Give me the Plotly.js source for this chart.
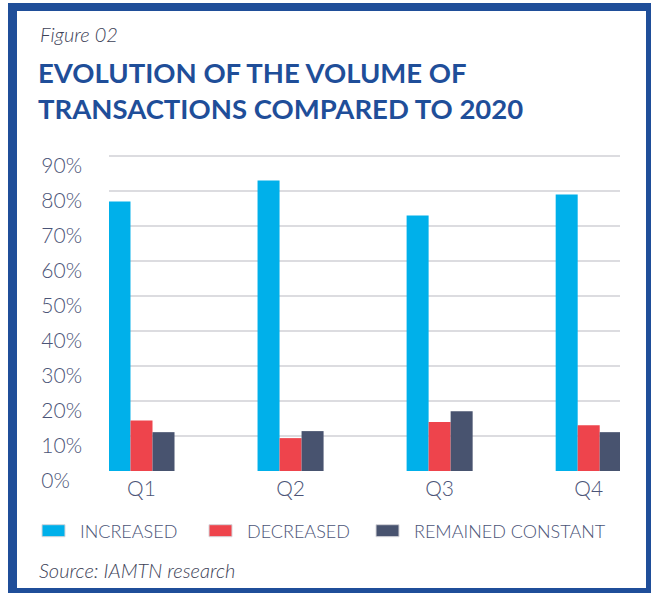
<!DOCTYPE html>
<html>
<head>
<meta charset="utf-8">
<script src="https://cdn.plot.ly/plotly-3.0.1.min.js"></script>
<style>
    html, body { margin: 0; padding: 0; background: #fff; }
    #wrap { position: relative; width: 651px; height: 593px; overflow: hidden; }
    #chart { position: absolute; left: 0; top: 0; width: 651px; height: 593px; }
    #frame {
        position: absolute; left: 8px; top: 3px; width: 643px; height: 590px;
        box-sizing: border-box; pointer-events: none;
        border-style: solid; border-color: #1f4e99;
        border-width: 8px 5px 5px 9px;
    }
</style>
</head>
<body>
<div id="wrap">
    <div id="chart"></div>
    <div id="frame"></div>
</div>
<script>
// Figure 02 - share of respondents per quarter (%)
const quarters = ['Q1', 'Q2', 'Q3', 'Q4'];
const increased = [77, 83, 73, 79];
const decreased = [14.4, 9.4, 14, 13.1];
const remainedConstant = [11.1, 11.4, 17.1, 11.1];

const tickVals = [0, 10, 20, 30, 40, 50, 60, 70, 80, 90];
const tickLabels = ['0%\u2007', '10%', '20%', '30%', '40%', '50%', '60%', '70%', '80%', '90%'];

const textColor = '#4b5477';
const titleBlue = '#1f4e99';

function bar(name, y, color) {
    return {
        x: quarters,
        y: y,
        name: name,
        type: 'bar',
        marker: { color: color },
        hoverinfo: 'skip'
    };
}

const traces = [
    bar('INCREASED', increased, '#00b0ea'),
    bar('DECREASED', decreased, '#ee444c'),
    bar('REMAINED CONSTANT', remainedConstant, '#48536f')
];

const layout = {
    width: 651,
    height: 593,
    margin: { l: 109, r: 31, t: 155, b: 122 },
    paper_bgcolor: '#fff',
    plot_bgcolor: '#fff',
    font: { family: 'Lato, "Open Sans", sans-serif', color: textColor },
    barmode: 'group',
    bargap: 0.557,
    bargroupgap: 0,
    title: {
        text: 'EVOLUTION OF THE VOLUME OF<br>TRANSACTIONS COMPARED TO 2020',
        font: { family: 'Lato, sans-serif', size: 27.5, weight: 700, color: titleBlue },
        xref: 'container', yref: 'container',
        x: 38 / 651, xanchor: 'left',
        y: 1 - 83 / 593, yanchor: 'top'
    },
    xaxis: {
        range: [-0.218, 3.21],
        showgrid: false,
        zeroline: false,
        showline: false,
        ticks: '',
        tickfont: { size: 21, weight: 300, color: textColor },
        ticklabelstandoff: 3,
        fixedrange: true
    },
    yaxis: {
        range: [0, 90.3],
        tickvals: tickVals,
        ticktext: tickLabels,
        tickfont: { size: 21, weight: 300, color: textColor },
        ticks: '',
        ticklabelstandoff: 26,
        ticklabelshift: 10,
        showline: false,
        zeroline: false,
        gridcolor: '#dcdce0',
        gridwidth: 1.5,
        fixedrange: true
    },
    showlegend: true,
    legend: {
        orientation: 'h',
        x: (40 - 109) / 511, xanchor: 'left',
        y: (471 - 531) / 316, yanchor: 'middle',
        font: { size: 18, weight: 300, color: textColor },
        entrywidth: 122,
        entrywidthmode: 'pixels',
        traceorder: 'normal',
        itemclick: false,
        itemdoubleclick: false
    },
    annotations: [
        {
            text: 'Figure 02',
            xref: 'paper', yref: 'paper',
            x: (38 - 109) / 511, xanchor: 'left',
            y: (471 - 34) / 316, yanchor: 'middle',
            showarrow: false,
            font: { size: 20, style: 'italic', weight: 300, color: '#3d4257' }
        },
        {
            text: 'Source: IAMTN research',
            xref: 'paper', yref: 'paper',
            x: (37 - 109) / 511, xanchor: 'left',
            y: (471 - 570) / 316, yanchor: 'middle',
            showarrow: false,
            font: { size: 20, style: 'italic', weight: 300, color: '#3d4257' }
        }
    ]
};

Plotly.newPlot('chart', traces, layout, { displayModeBar: false, staticPlot: true }).then(function (gd) {
    // wide, flat legend swatches like the original
    gd.querySelectorAll('.legendpoints path').forEach(function (p) {
        p.setAttribute('d', 'M5,6H-18V-6H5Z');
        p.style.stroke = '#d6d6da';
        p.style.strokeWidth = '1px';
    });
    // fixed entry width clips the long last label; let it show in full
    gd.querySelectorAll('.legend .scrollbox').forEach(function (g) {
        g.removeAttribute('clip-path');
    });
});
</script>
</body>
</html>
